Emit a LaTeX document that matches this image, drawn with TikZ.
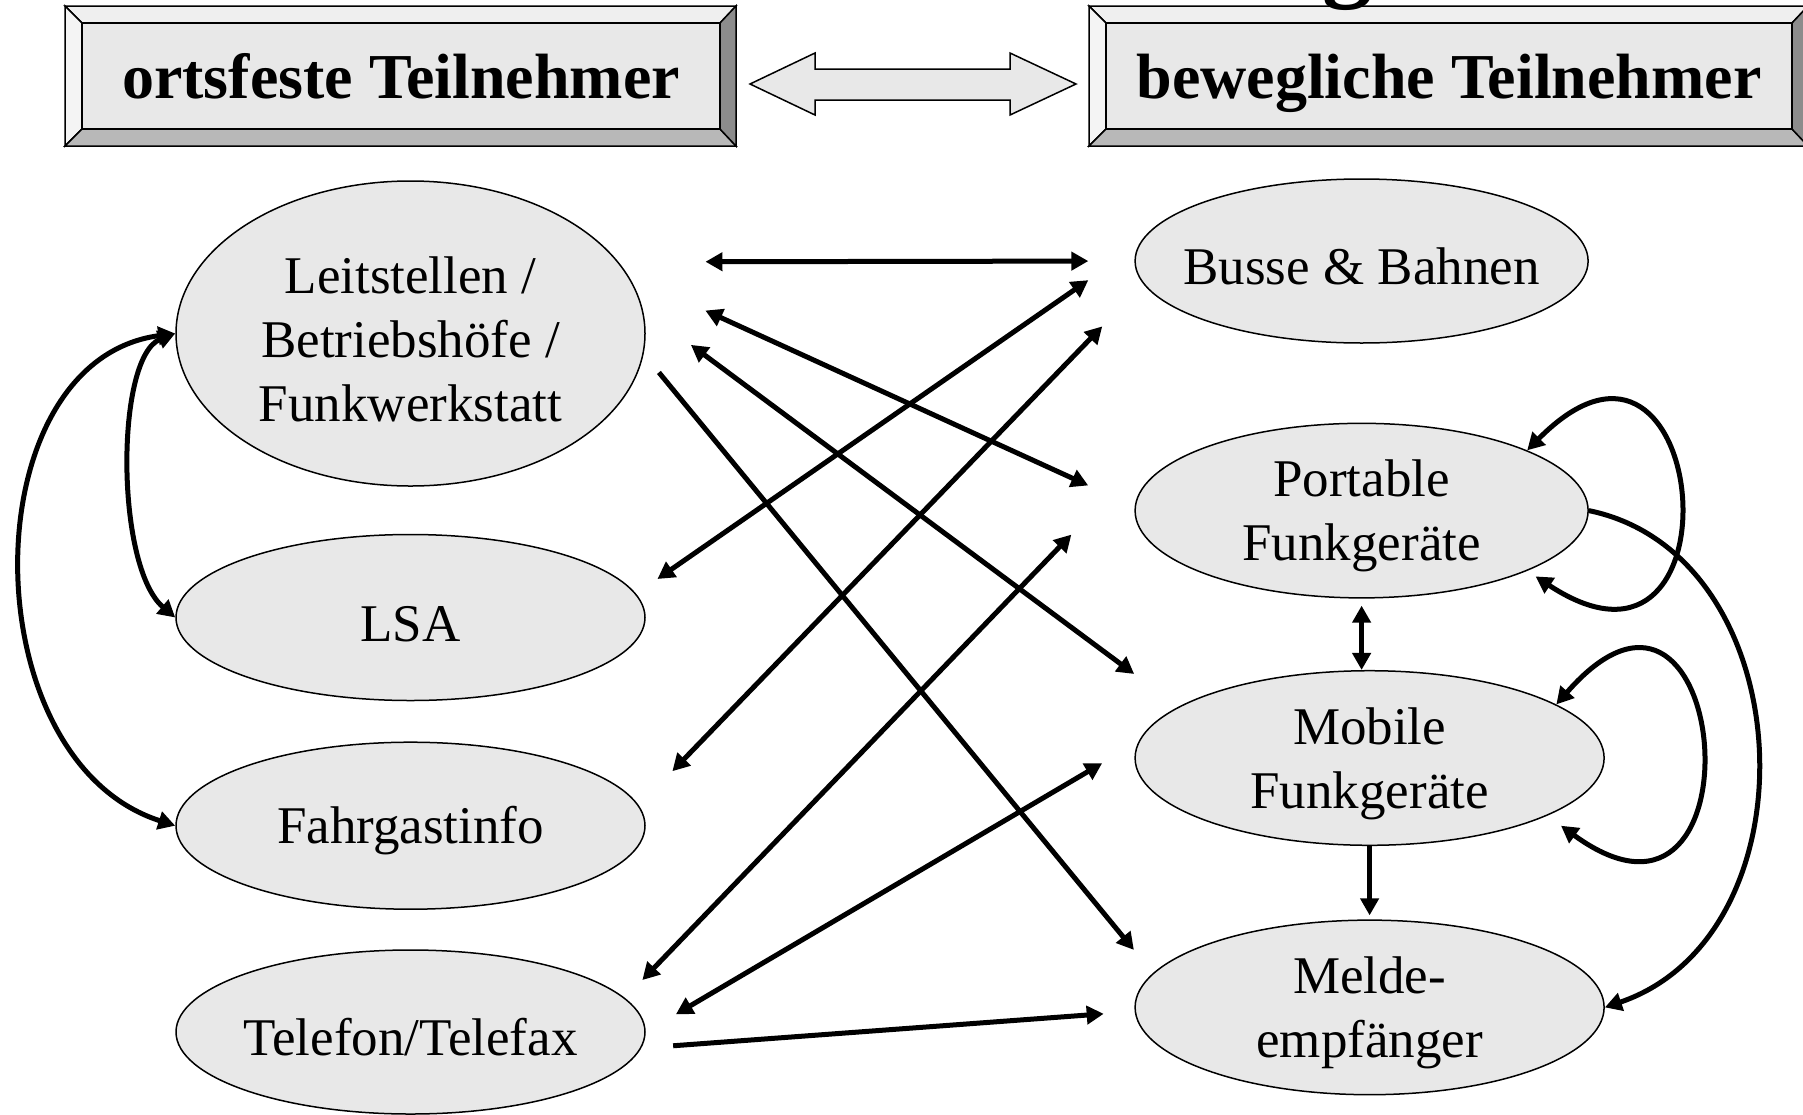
\documentclass[tikz,border=0pt]{standalone}
\usepackage{fontspec}
\setmainfont{Liberation Serif}
\usetikzlibrary{arrows.meta,shapes.geometric}
\definecolor{facegray}{HTML}{E8E8E8}
\definecolor{toplight}{HTML}{EFEFEF}
\definecolor{leftlight}{HTML}{F4F4F4}
\definecolor{bottomgray}{HTML}{B8B8B8}
\definecolor{rightgray}{HTML}{8C8C8C}
\newcommand{\oben}{\rule{0pt}{48pt}}
\begin{document}
\begin{tikzpicture}[x=1pt,y=-1pt,
  station/.style={ellipse,draw=black,line width=1.5pt,fill=facegray,inner sep=0pt,
    align=center,font=\fontsize{53}{64}\selectfont},
  link/.style={{Triangle[length=17pt,width=18pt]}-{Triangle[length=17pt,width=18pt]},line width=5pt},
  oneway/.style={-{Triangle[length=17pt,width=18pt]},line width=5pt},
  face/.style={rectangle,draw=black,line width=1.5pt,fill=facegray,minimum height=106pt,
    text height=44pt,text depth=0pt,font=\bfseries\fontsize{64}{77}\selectfont},
  bevel/.style={draw=black,line width=1.5pt}
]
  \useasboundingbox (0,0) rectangle (1803,1114);
  % header boxes
  \foreach \xa/\xb in {65/736,1089/1808} {
    \draw[bevel,fill=toplight] (\xa,6) -- (\xb,6) -- (\xb-16,23) -- (\xa+17,23) -- cycle;
    \draw[bevel,fill=leftlight] (\xa,6) -- (\xa+17,23) -- (\xa+17,129) -- (\xa,146) -- cycle;
    \draw[bevel,fill=bottomgray] (\xa,146) -- (\xa+17,129) -- (\xb-16,129) -- (\xb,146) -- cycle;
    \draw[bevel,fill=rightgray] (\xb,6) -- (\xb,146) -- (\xb-16,129) -- (\xb-16,23) -- cycle;
  }
  \node[face,minimum width=638pt] (ortsfest) at (401,76) {ortsfeste Teilnehmer};
  \node[face,minimum width=686pt] (beweglich) at (1449,76) {bewegliche Teilnehmer};
  \node[inner sep=0pt,anchor=base west,font=\bfseries\fontsize{100}{100}\selectfont] (titel) at (1322,-12) {g};
  \draw[line width=1.5pt,fill=facegray] (750,84) -- (815,53) -- (815,69) -- (1010,69) -- (1010,53)
    -- (1076,84) -- (1010,115) -- (1010,100) -- (815,100) -- (815,115) -- cycle;

  % ortsfeste Teilnehmer
  \node[station,minimum width=469pt,minimum height=305pt] (leit) at (410.5,333.5)
    {\oben Leitstellen /\\Betriebshöfe /\\Funkwerkstatt};
  \node[station,minimum width=469pt,minimum height=166pt] (lsa) at (410.5,617.5) {\oben LSA};
  \node[station,minimum width=469pt,minimum height=167pt] (fahrg) at (410.5,825.7) {\oben Fahrgastinfo};
  \node[station,minimum width=469pt,minimum height=164pt,inner xsep=-10pt] (tel) at (410.5,1032)
    {\oben Telefon/Telefax};
  % bewegliche Teilnehmer
  \node[station,minimum width=453pt,minimum height=164pt,inner xsep=-20pt] (busse) at (1361.6,261)
    {\oben Busse \& Bahnen};
  \node[station,minimum width=453pt,minimum height=166pt] (port) at (1361.6,510.6)
    {\oben Portable\\Funkgeräte};
  \node[station,minimum width=469pt,minimum height=166pt] (mob) at (1369.6,758)
    {\oben Mobile\\Funkgeräte};
  \node[station,minimum width=469pt,minimum height=166pt] (melde) at (1369.6,1007.4)
    {\oben Melde-\\empfänger};
  \coordinate (portfree) at ([shift={(-63,24)}]port.west);

  % Verbindungen
  \draw[link,shorten <=87pt,shorten >=46pt] (leit.19) -- (busse.west);
  \draw[link,shorten <=61pt,shorten >=26pt] (busse.176) -- (lsa.6);
  \draw[link,shorten <=85pt,shorten >=51pt] (leit.15) -- (port.179);
  \draw[link,shorten <=59pt,shorten >=48pt] (busse.186) -- (fahrg.5);
  \draw[link,shorten <=60pt,shorten >=55pt] (leit.6) -- (mob.165);
  \draw[oneway,shorten <=24pt,shorten >=30pt] (leit.-5) -- (melde.171);
  \draw[link,shorten <=25pt] (tel.9) -- (portfree);
  \draw[link,shorten <=42pt,shorten >=35pt] (mob.176) -- (tel.east);
  \draw[oneway,shorten <=32pt,shorten >=31pt] (tel.-4) -- (melde.181);
  \draw[link,shorten <=7pt] (port.south) -- (port.south |- mob.north);
  \draw[oneway,shorten >=4pt] (mob.south) -- (melde.north);
  \draw[link] (leit.west) .. controls +(-60,23) and +(-60,-51) .. (lsa.west);
  \draw[link] (leit.west) .. controls +(-205,27) and +(-205,-66) .. (fahrg.west);
  \draw[link,shorten <=10pt] (port.-20) .. controls +(220,145) and +(183,-185) .. (port.20);
  \draw[link,shorten <=17pt] (mob.-18) .. controls +(220,160) and +(175,-200) .. (mob.16);
  \draw[oneway] (port.east) .. controls +(214,44) and +(214,-73) .. (melde.east);
\end{tikzpicture}
\end{document}
